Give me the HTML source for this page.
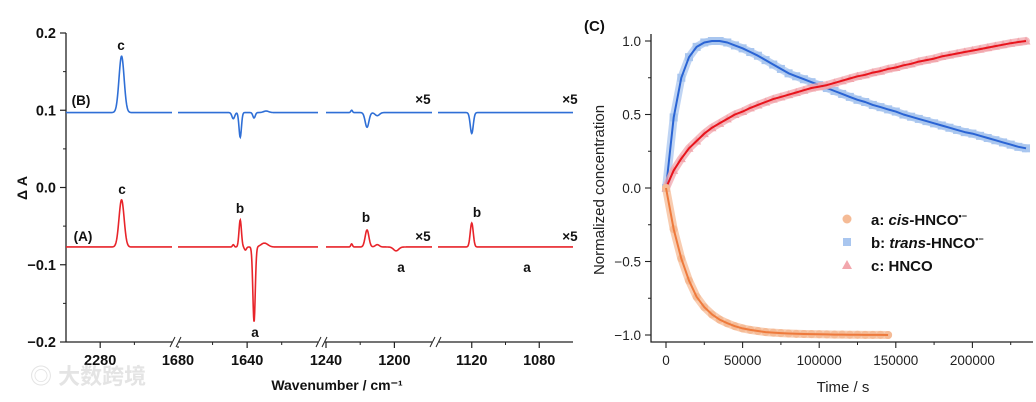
<!DOCTYPE html>
<html><head><meta charset="utf-8"><style>
html,body{margin:0;padding:0;background:#fff;}
svg{display:block;font-family:"Liberation Sans",Arial,sans-serif;}
</style></head><body>
<svg id="fig" width="1036" height="402" viewBox="0 0 1036 402">
<g id="left"></g>
<g id="right"></g>
<text x="30" y="384" font-family="'Liberation Sans','Noto Sans CJK SC',sans-serif" font-size="22" fill="#e4e4e4" font-weight="bold">◎ 大数跨境</text>
</svg>
<script>
// ---------- Left panel data ----------
const yTicksL = [0.2, 0.1, 0.0, -0.1, -0.2];
const yTickLabelsL = ["0.2", "0.1", "0.0", "\u22120.1", "\u22120.2"];
const segRanges = [[2300, 2238], [1680, 1599], [1240, 1178], [1140, 1060]];
const xTickValues = [[2280], [1680, 1640], [1240, 1200], [1120, 1080]];
const xMinorValues = [[2260], [1660, 1620], [1220], [1100]];
const baselineB = 0.097;
const baselineA = -0.077;
// peaks: [segment, wavenumber, amplitude, width]
const peaksB = [[0, 2267.5, 0.073, 1.5], [1, 1648, -0.008, 0.8], [1, 1644, -0.032, 0.7], [1, 1636, -0.007, 0.7], [1, 1629, 0.002, 1.5],
  [2, 1225, 0.003, 0.5], [2, 1216, -0.019, 1.1], [2, 1210, -0.004, 1.3], [3, 1120, -0.027, 0.9]];
const peaksA = [[0, 2267.5, 0.061, 1.5], [1, 1648, 0.003, 0.5], [1, 1644, 0.035, 0.7], [1, 1641, -0.004, 0.6], [1, 1636, -0.097, 0.7], [1, 1630, 0.005, 2.0],
  [2, 1225, 0.004, 0.5], [2, 1216, 0.022, 1.1], [2, 1210, 0.003, 1.2], [2, 1199, -0.005, 1.5], [3, 1120, 0.031, 0.9]];

// ---------- Right panel data ----------
const stepT = 5000;
const cisA = [0,-0.28,-0.48,-0.63,-0.74,-0.81,-0.86,-0.895,-0.92,-0.94,-0.955,-0.965,-0.973,-0.98,-0.984,-0.987,-0.99,-0.992,-0.993,-0.994,-0.995,-0.996,-0.997,-0.997,-0.998,-0.998,-0.999,-0.999,-0.999,-1.0];
const transB = [0,0.48,0.75,0.89,0.96,0.99,1.0,1.0,0.99,0.97,0.95,0.925,0.9,0.87,0.84,0.81,0.78,0.76,0.74,0.72,0.70,0.68,0.66,0.64,0.62,0.6,0.585,0.565,0.55,0.535,0.52,0.50,0.485,0.47,0.455,0.44,0.425,0.41,0.395,0.38,0.37,0.355,0.34,0.325,0.31,0.295,0.28,0.27];
const hncoC = [0,0.12,0.2,0.27,0.32,0.37,0.41,0.44,0.47,0.5,0.52,0.545,0.565,0.585,0.605,0.62,0.635,0.65,0.665,0.68,0.69,0.70,0.715,0.73,0.745,0.76,0.77,0.785,0.795,0.81,0.82,0.835,0.845,0.86,0.87,0.88,0.895,0.905,0.915,0.925,0.935,0.945,0.955,0.965,0.975,0.985,0.993,1.0];
const xTicksR = [0, 50000, 100000, 150000, 200000];
const yTicksR = [1.0, 0.5, 0.0, -0.5, -1.0];
const yTickLabelsR = ["1.0", "0.5", "0.0", "\u22120.5", "\u22121.0"];

const NS = "http://www.w3.org/2000/svg";
function mk(parent, tag, attrs, text) {
  const e = document.createElementNS(NS, tag);
  for (const k in attrs) e.setAttribute(k, attrs[k]);
  if (text !== undefined) e.textContent = text;
  parent.appendChild(e);
  return e;
}

// ---------- Left panel ----------
const L = document.getElementById('left');
const segPx = [[66, 172], [178, 318], [326, 432], [438, 573]];
function xL(seg, w) {
  const r = segRanges[seg], p = segPx[seg];
  return p[0] + (r[0] - w) / (r[0] - r[1]) * (p[1] - p[0]);
}
function yL(v) { return 33 + (0.2 - v) / 0.4 * 309; }

let e;
e = mk(L, 'line', {x1: 66, y1: 33, x2: 66, y2: 342, stroke: '#222', 'stroke-width': 1.3});


e = mk(L, 'line', {x1: 66, y1: 342, x2: 573, y2: 342, stroke: '#222', 'stroke-width': 1.3});


yTicksL.forEach((v, i) => {
  const y = yL(v);
  mk(L, 'line', {x1: 60, y1: y, x2: 66, y2: y, stroke: '#222', 'stroke-width': 1.2});
  e = mk(L, 'text', {x: 56, y: y + 5, 'text-anchor': 'end', 'font-size': 14.5, 'font-weight': 'bold', fill: '#111'}, yTickLabelsL[i]);
  
  
  if (i < yTicksL.length - 1) {
    const ym = yL(v - 0.05);
    mk(L, 'line', {x1: 63, y1: ym, x2: 66, y2: ym, stroke: '#222', 'stroke-width': 1});
  }
});
xTickValues.forEach((arr, s) => arr.forEach(w => {
  const x = xL(s, w);
  mk(L, 'line', {x1: x, y1: 342, x2: x, y2: 348, stroke: '#222', 'stroke-width': 1.2});
  e = mk(L, 'text', {x: x, y: 365, 'text-anchor': 'middle', 'font-size': 14.5, 'font-weight': 'bold', fill: '#111'}, String(w));
  
  
}));
xMinorValues.forEach((arr, s) => arr.forEach(w => {
  const x = xL(s, w);
  mk(L, 'line', {x1: x, y1: 342, x2: x, y2: 345, stroke: '#222', 'stroke-width': 1});
}));
// axis breaks
[172, 318, 432].forEach(bx => {
  mk(L, 'rect', {x: bx, y: 338, width: 7, height: 8, fill: '#fff'});
  mk(L, 'line', {x1: bx - 2, y1: 347, x2: bx + 3, y2: 337, stroke: '#222', 'stroke-width': 1});
  mk(L, 'line', {x1: bx + 4, y1: 347, x2: bx + 9, y2: 337, stroke: '#222', 'stroke-width': 1});
});

function spectrum(base, peaks, color, name) {
  for (let s = 0; s < 4; s++) {
    const r = segRanges[s];
    let d = '';
    const n = 400;
    for (let k = 0; k <= n; k++) {
      const w = r[0] - (r[0] - r[1]) * k / n;
      let v = base;
      peaks.forEach(p => { if (p[0] === s) v += p[2] * Math.exp(-0.5 * Math.pow((w - p[1]) / p[3], 2)); });
      d += (k ? 'L' : 'M') + xL(s, w).toFixed(2) + ',' + yL(v).toFixed(2);
    }
    e = mk(L, 'path', {d: d, fill: 'none', stroke: color, 'stroke-width': 1.6});
    
    
  }
}
spectrum(baselineB, peaksB, '#2f6fd6', 'spectrum-b');
spectrum(baselineA, peaksA, '#e8242a', 'spectrum-a');

const labelsL = [
  ['c', 121, 50, 'peak-label-c-b'], ['c', 122, 194, 'peak-label-c-a'], ['b', 240, 213, 'peak-label-b-1'],
  ['b', 366, 222, 'peak-label-b-2'], ['b', 477, 217, 'peak-label-b-3'], ['a', 255, 337, 'peak-label-a-1'],
  ['a', 401, 272, 'peak-label-a-2'], ['a', 527, 272, 'peak-label-a-3'],
  ['\u00d75', 423, 104, 'scale-label-b-1'], ['\u00d75', 570, 104, 'scale-label-b-2'],
  ['\u00d75', 423, 241, 'scale-label-a-1'], ['\u00d75', 570, 241, 'scale-label-a-2'],
  ['(B)', 81, 105, 'trace-label-b'], ['(A)', 83, 241, 'trace-label-a']
];
labelsL.forEach(l => {
  e = mk(L, 'text', {x: l[1], y: l[2], 'text-anchor': 'middle', 'font-size': 13.5, 'font-weight': 'bold', fill: '#111'}, l[0]);
  
  
});
e = mk(L, 'text', {x: 0, y: 0, transform: 'translate(27,188) rotate(-90)', 'text-anchor': 'middle', 'font-size': 14, 'font-weight': 'bold', fill: '#111'}, '\u0394 A');


e = mk(L, 'text', {x: 337, y: 390, 'text-anchor': 'middle', 'font-size': 14, 'font-weight': 'bold', fill: '#111'}, 'Wavenumber / cm\u207b\u00b9');



// ---------- Right panel ----------
const R = document.getElementById('right');
function xR(t) { return 666 + t / 50000 * 76.6; }
function yR(v) { return 188 - v * 147; }
e = mk(R, 'polyline', {points: '651,34 651,342 1033,342', fill: 'none', stroke: '#222', 'stroke-width': 1.3});


xTicksR.forEach(t => {
  const x = xR(t);
  mk(R, 'line', {x1: x, y1: 342, x2: x, y2: 348, stroke: '#222', 'stroke-width': 1.1});
  mk(R, 'line', {x1: xR(t + 25000), y1: 342, x2: xR(t + 25000), y2: 345, stroke: '#222', 'stroke-width': 1});
  e = mk(R, 'text', {x: x, y: 365, 'text-anchor': 'middle', 'font-size': 13.5, fill: '#222'}, String(t));
  
  
});
yTicksR.forEach((v, i) => {
  const y = yR(v);
  mk(R, 'line', {x1: 645, y1: y, x2: 651, y2: y, stroke: '#222', 'stroke-width': 1.1});
  if (i < yTicksR.length - 1) mk(R, 'line', {x1: 648, y1: yR(v - 0.25), x2: 651, y2: yR(v - 0.25), stroke: '#222', 'stroke-width': 1});
  e = mk(R, 'text', {x: 641, y: y + 5, 'text-anchor': 'end', 'font-size': 13.5, fill: '#222'}, yTickLabelsR[i]);
  
  
});

function series(vals, light, dark, marker, name) {
  const pts = vals.map((v, i) => xR(i * stepT).toFixed(1) + ',' + yR(v).toFixed(1)).join(' ');
  e = mk(R, 'polyline', {points: pts, fill: 'none', stroke: light, 'stroke-width': 8, 'stroke-linejoin': 'round', 'stroke-linecap': 'round', opacity: 0.75});
  
  
  vals.forEach((v, i) => {
    const x = xR(i * stepT), y = yR(v);
    if (marker === 'c') e = mk(R, 'circle', {cx: x, cy: y, r: 4, fill: light});
    else if (marker === 's') e = mk(R, 'rect', {x: x - 4, y: y - 4, width: 8, height: 8, fill: light});
    else e = mk(R, 'polygon', {points: `${x},${y - 4.5} ${x - 4.5},${y + 3.5} ${x + 4.5},${y + 3.5}`, fill: light});
    
    
  });
  e = mk(R, 'polyline', {points: pts, fill: 'none', stroke: dark, 'stroke-width': 2, 'stroke-linejoin': 'round'});
  
  
}
series(transB, '#a9c6ef', '#2a64d4', 's', 'trans-hnco');
series(hncoC, '#f2a7ad', '#e8141c', 't', 'hnco');
series(cisA, '#f5bb96', '#ee7a3c', 'c', 'cis-hnco');

e = mk(R, 'text', {x: 584, y: 31, 'font-size': 15, 'font-weight': 'bold', fill: '#111'}, '(C)');


e = mk(R, 'text', {x: 0, y: 0, transform: 'translate(604,190) rotate(-90)', 'text-anchor': 'middle', 'font-size': 15, fill: '#222'}, 'Normalized concentration');


e = mk(R, 'text', {x: 843, y: 392, 'text-anchor': 'middle', 'font-size': 15, fill: '#222'}, 'Time / s');



// legend
const lg = mk(R, 'g', {});


e = mk(lg, 'circle', {cx: 847, cy: 219, r: 4.5, fill: '#f5bb96'});
e = mk(lg, 'rect', {x: 843, y: 238, width: 8, height: 8, fill: '#a9c6ef'});
e = mk(lg, 'polygon', {points: '847,260 842,269 852,269', fill: '#f2a7ad'});
e = mk(lg, 'text', {x: 871, y: 225, 'font-size': 15, 'font-weight': 'bold', fill: '#111'});
e.innerHTML = 'a: <tspan font-style="italic">cis</tspan>-HNCO<tspan dy="-6" font-size="9">\u2022\u2212</tspan>';


e = mk(lg, 'text', {x: 871, y: 248, 'font-size': 15, 'font-weight': 'bold', fill: '#111'});
e.innerHTML = 'b: <tspan font-style="italic">trans</tspan>-HNCO<tspan dy="-6" font-size="9">\u2022\u2212</tspan>';


e = mk(lg, 'text', {x: 871, y: 271, 'font-size': 15, 'font-weight': 'bold', fill: '#111'}, 'c: HNCO');


</script>
</body></html>
